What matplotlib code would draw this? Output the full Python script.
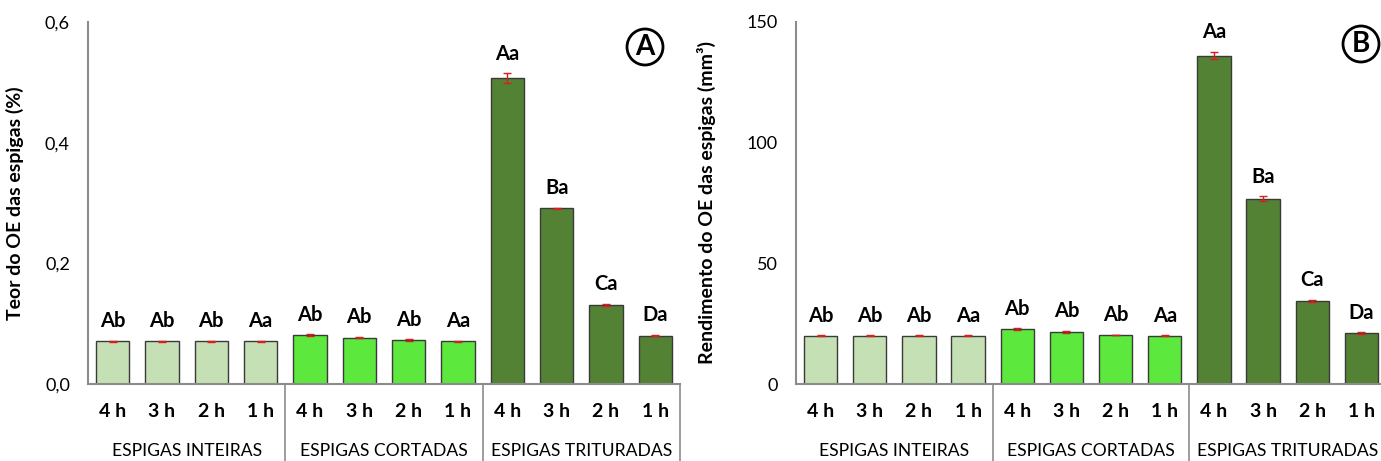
import matplotlib.pyplot as plt
import matplotlib.transforms as mtransforms

plt.rcParams['font.family'] = ['Lato', 'DejaVu Sans']

# data
horas = ['4 h', '3 h', '2 h', '1 h'] * 3
grupos = ['ESPIGAS INTEIRAS', 'ESPIGAS CORTADAS', 'ESPIGAS TRITURADAS']

teor = [0.071, 0.071, 0.071, 0.071, 0.081, 0.077, 0.073, 0.071, 0.507, 0.291, 0.131, 0.080]
teor_err = [0.001, 0.001, 0.001, 0.001, 0.0015, 0.001, 0.001, 0.001, 0.008, 0.001, 0.002, 0.001]
letras_a = ['Ab', 'Ab', 'Ab', 'Aa', 'Ab', 'Ab', 'Ab', 'Aa', 'Aa', 'Ba', 'Ca', 'Da']

rend = [19.9, 19.9, 19.9, 19.9, 22.8, 21.6, 20.3, 19.9, 136.0, 76.7, 34.4, 21.1]
rend_err = [0.2, 0.2, 0.2, 0.2, 0.3, 0.3, 0.2, 0.2, 1.5, 1.0, 0.4, 0.3]
letras_b = ['Ab', 'Ab', 'Ab', 'Aa', 'Ab', 'Ab', 'Ab', 'Aa', 'Aa', 'Ba', 'Ca', 'Da']

cores = ['#c5e0b4'] * 4 + ['#5ce83c'] * 4 + ['#548235'] * 4

fig = plt.figure(figsize=(13.81, 4.61), dpi=100)
W, H = 1381, 461
axA = fig.add_axes([88 / W, (H - 384) / H, 592 / W, 362 / H])
axB = fig.add_axes([796 / W, (H - 384) / H, 590 / W, 362 / H])


def painel(ax, vals, errs, letras, ymax, yticks, ytlabels, ylabel, tag, labx, offs):
    x = list(range(len(vals)))
    ax.bar(x, vals, width=0.68, color=cores, edgecolor='#3a3a3a', linewidth=1.0, zorder=2)
    ax.errorbar(x, vals, yerr=errs, fmt='none', ecolor='#d62020', elinewidth=1.0,
                capsize=3, capthick=1.0, zorder=3)
    for xi, v, e, t in zip(x, vals, errs, letras):
        ax.annotate(t, (xi, v + e), xytext=(0, 7), textcoords='offset points',
                    ha='center', va='bottom', fontsize=14.5, fontweight='bold')
    ax.set_xlim(-0.5, 11.5)
    ax.set_ylim(0, ymax)
    ax.set_yticks(yticks)
    ax.set_yticklabels(ytlabels, fontsize=13)
    ax.set_xticks(x)
    ax.set_xticklabels(horas, fontsize=14, fontweight='bold')
    ax.tick_params(axis='both', length=0)
    ax.tick_params(axis='x', pad=14)
    ax.tick_params(axis='y', pad=13)
    for s in ['top', 'right']:
        ax.spines[s].set_visible(False)
    for s in ['left', 'bottom']:
        ax.spines[s].set_color('#8c8c8c')
        ax.spines[s].set_linewidth(1.5)
    ax.set_ylabel(ylabel, fontsize=14, fontweight='bold')
    ax.yaxis.set_label_coords(labx, 0.5)
    trans = mtransforms.blended_transform_factory(ax.transData, ax.transAxes)
    for xs in [3.5, 7.5, 11.5]:
        ax.plot([xs, xs], [0, -0.22], color='#8c8c8c', lw=1.2, transform=trans, clip_on=False)
    for i, g in enumerate(grupos):
        ax.text(i * 4 + 1.5, -0.185, g, transform=trans, ha='center', va='center', fontsize=12.6)
    ax.text(offs[0], offs[1], tag, transform=ax.transAxes, ha='center', va='center',
            fontsize=20, fontweight='bold',
            bbox=dict(boxstyle='circle,pad=0.18', fc='white', ec='black', lw=2))


painel(axA, teor, teor_err, letras_a, 0.6, [0, 0.2, 0.4, 0.6],
       ['0,0', '0,2', '0,4', '0,6'], 'Teor do OE das espigas (%)', 'A', -0.108,
       ((645 - 88) / 592, (384 - 47) / 362))
painel(axB, rend, rend_err, letras_b, 150, [0, 50, 100, 150],
       ['0', '50', '100', '150'], 'Rendimento do OE das espigas (mm³)', 'B', -0.135,
       ((1361 - 796) / 590, (384 - 44) / 362))

fig.savefig('out.png', dpi=100)
